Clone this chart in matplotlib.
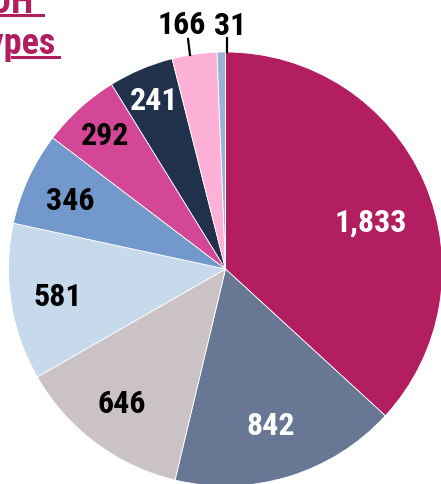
import numpy as np
import matplotlib.pyplot as plt
from matplotlib.lines import Line2D

# data
values = [1833, 842, 646, 581, 346, 292, 241, 166, 31]
colors = ["#B21E5F", "#687894", "#CAC2C5", "#C6DAEC", "#7398CB",
          "#D44696", "#21314C", "#FDB1D7", "#9AB1D6"]
text_colors = ["white", "white", "black", "black", "black",
               "black", "white", "black", "black"]
title_lines = ["FOH", "Types"]

# layout (pixels, image coords with y going down)
W, H = 441, 485
cx, cy, R = 225.5, 270, 217
label_frac = [0.71, 0.74, 0.77, 0.78, 0.79, 0.84, 0.855, 1.156, 1.138]
label_nudge = [4.7, 0.5, 1.4, 0.6, 0.0, 0.8, 0.2, -1.8, 2.1]   # degrees clockwise
leaders = {7: ((190, 56), (188, 40)), 8: ((226.5, 53), (226.5, 39))}
font = ['Roboto Condensed', 'Roboto', 'DejaVu Sans']
magenta = "#B01E5F"

fig = plt.figure(figsize=(W / 100, H / 100), dpi=100)
ax = fig.add_axes([0, 0, 1, 1])

wedges, _ = ax.pie(values, colors=colors, startangle=90, counterclock=False,
                   center=(cx, H - cy), radius=R, frame=True,
                   wedgeprops=dict(edgecolor='white', linewidth=0.6))
ax.set_xlim(0, W)
ax.set_ylim(0, H)
ax.set_aspect('equal')
ax.axis('off')

# value labels
total = sum(values)
start = 0.0
for i, v in enumerate(values):
    span = v / total * 360
    ang = np.radians(start + span / 2 + label_nudge[i])
    start += span
    x = cx + R * label_frac[i] * np.sin(ang)
    y = cy - R * label_frac[i] * np.cos(ang)
    ax.text(x, H - y - 11.5, f"{v:,}", color=text_colors[i], ha='center',
            va='baseline', fontsize=23, fontweight='bold', family=font)

for (x0, y0), (x1, y1) in leaders.values():
    ax.add_line(Line2D([x0, x1], [H - y0, H - y1], color='black', lw=1.6))

# cropped title in the top-left corner
ax.text(34, H - 13, title_lines[0], color=magenta, ha='right', va='baseline',
        fontsize=26, fontweight='bold', family=font)
ax.text(55, H - 53.5, title_lines[1], color=magenta, ha='right', va='baseline',
        fontsize=26, fontweight='bold', family=font)
ax.add_line(Line2D([0, 43], [H - 15.8, H - 15.8], color=magenta, lw=2.2))
ax.add_line(Line2D([12, 59], [H - 57.8, H - 57.8], color=magenta, lw=2.2))

fig.savefig('out.png', dpi=100)
